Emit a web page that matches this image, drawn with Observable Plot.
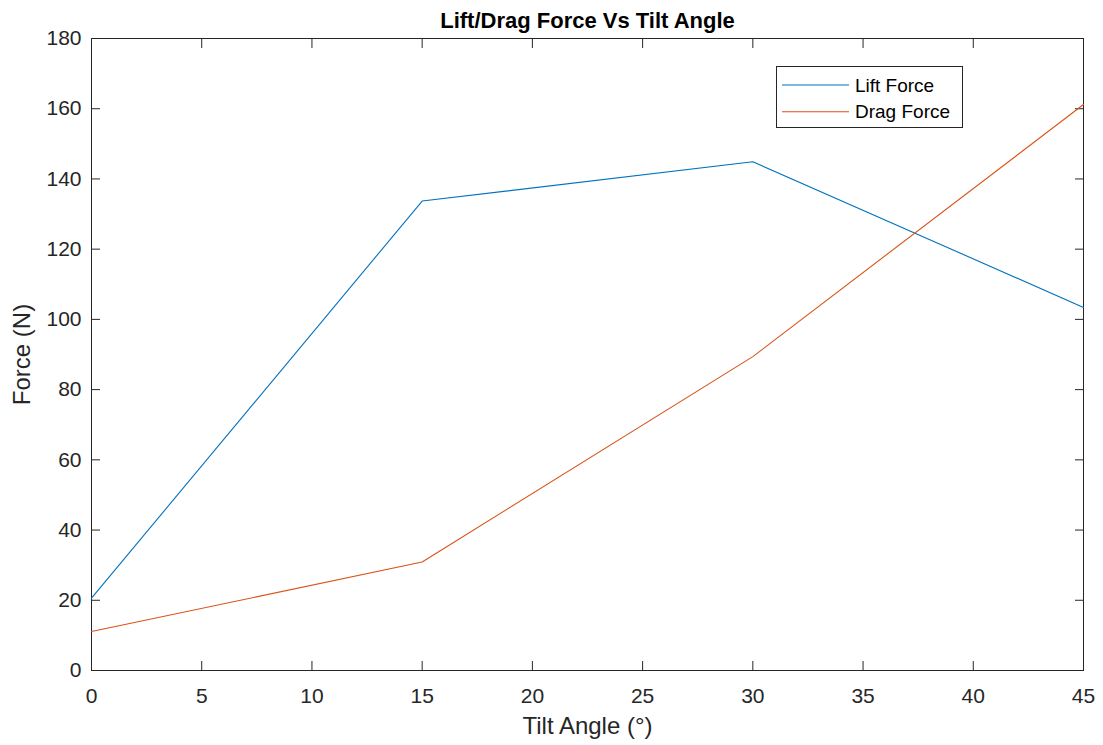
<!DOCTYPE html>
<html>
<head>
<meta charset="utf-8">
<script src="https://cdn.jsdelivr.net/npm/d3@7"></script>
<script src="https://cdn.jsdelivr.net/npm/@observablehq/plot@0.6"></script>
<style>
  html, body { margin: 0; padding: 0; background: #ffffff; }
  #chart { position: relative; width: 1103px; height: 745px; font-family: "Liberation Sans", Arial, sans-serif; }
  #legend { position: absolute; left: 0; top: 0; }
</style>
</head>
<body>
<div id="chart"></div>
<script>
// Tilt angles (degrees) and the measured forces (N)
const tiltAngle = [0, 15, 30, 45];
const liftForce = [20.6, 133.7, 144.9, 103.4];
const dragForce = [11.1, 30.9, 89.4, 161.2];

const seriesNames = ["Lift Force", "Drag Force"];
const seriesColors = ["#0072BD", "#D95319"];

const xTicks = [0, 5, 10, 15, 20, 25, 30, 35, 40, 45];
const yTicks = [0, 20, 40, 60, 80, 100, 120, 140, 160, 180];

const titleText = "Lift/Drag Force Vs Tilt Angle";
const xLabel = "Tilt Angle (°)";
const yLabel = "Force (N)";

// Long-form table built from the arrays above
const rows = [];
tiltAngle.forEach((a, i) => {
  rows.push({angle: a, force: liftForce[i], series: seriesNames[0]});
  rows.push({angle: a, force: dragForce[i], series: seriesNames[1]});
});

const ink = "#262626";
const width = 1103, height = 745;

const chart = Plot.plot({
  width, height,
  marginLeft: 91, marginRight: 20, marginTop: 38, marginBottom: 75,
  style: {fontFamily: "'Liberation Sans', Arial, sans-serif", fontSize: "21px", background: "#ffffff", color: ink},
  x: {domain: [0, 45]},
  y: {domain: [0, 180]},
  color: {domain: seriesNames, range: seriesColors},
  marks: [
    // inward tick marks on all four sides
    Plot.axisX({ticks: xTicks, anchor: "bottom", tickSize: -9, tickFormat: () => "", label: null, stroke: ink}),
    Plot.axisX({ticks: xTicks, anchor: "top", tickSize: -9, tickFormat: () => "", label: null, stroke: ink}),
    Plot.axisY({ticks: yTicks, anchor: "left", tickSize: -9, tickFormat: () => "", label: null, stroke: ink}),
    Plot.axisY({ticks: yTicks, anchor: "right", tickSize: -9, tickFormat: () => "", label: null, stroke: ink}),
    // tick labels
    Plot.axisX({ticks: xTicks, anchor: "bottom", tickSize: 0, tickPadding: 18, label: null, fill: ink, fontSize: 21}),
    Plot.axisY({ticks: yTicks, anchor: "left", tickSize: 0, tickPadding: 10, label: null, fill: ink, fontSize: 21}),
    Plot.frame({stroke: ink, strokeWidth: 1}),
    Plot.line(rows, {x: "angle", y: "force", z: "series", stroke: "series", strokeWidth: 1.1}),
    // title and axis labels
    Plot.text([titleText], {frameAnchor: "top", lineAnchor: "bottom", dy: -11, fontSize: 22, fontWeight: "bold", fill: "#000000"}),
    Plot.text([xLabel], {frameAnchor: "bottom", lineAnchor: "top", dy: 46, fontSize: 24, fill: ink}),
    Plot.text([yLabel], {frameAnchor: "left", textAnchor: "middle", rotate: -90, dx: -69, fontSize: 24, fill: ink})
  ]
});
document.getElementById("chart").appendChild(chart);

// Legend box in the upper right of the axes
const legend = d3.select("#chart").append("svg")
  .attr("id", "legend")
  .attr("width", width).attr("height", height)
  .style("pointer-events", "none");
legend.append("rect")
  .attr("x", 776.5).attr("y", 66.5).attr("width", 186).attr("height", 61)
  .attr("fill", "#ffffff").attr("stroke", ink).attr("stroke-width", 1);
seriesNames.forEach((name, i) => {
  const cy = 85 + i * 26.7;
  legend.append("line")
    .attr("x1", 782).attr("x2", 849).attr("y1", cy).attr("y2", cy)
    .attr("stroke", seriesColors[i]).attr("stroke-width", 1.1);
  legend.append("text")
    .attr("x", 855).attr("y", cy).attr("dy", "0.35em")
    .attr("font-size", 19).attr("fill", "#000000")
    .text(name);
});
</script>
</body>
</html>
